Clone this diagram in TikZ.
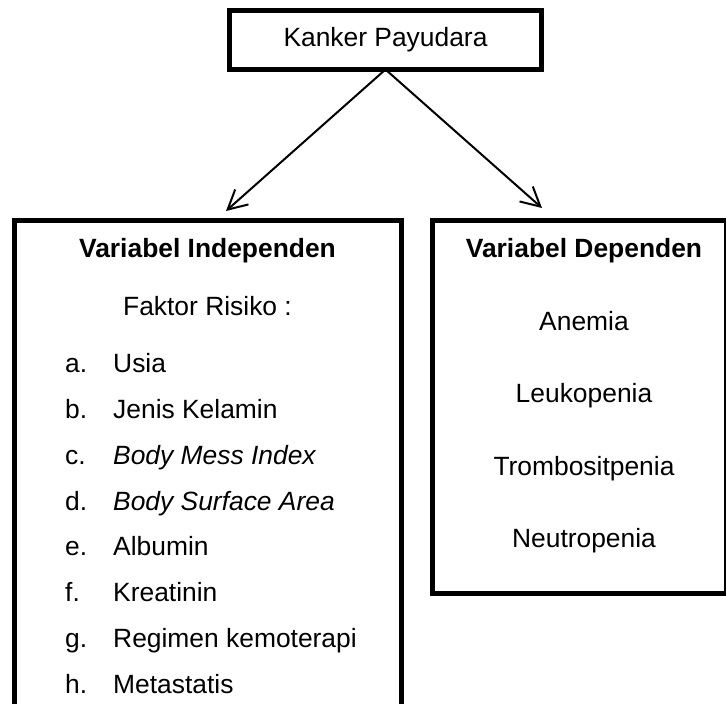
\documentclass[tikz,border=0pt]{standalone}
\usepackage{fontspec}
\setmainfont{Liberation Sans}
\usetikzlibrary{arrows.meta}
\begin{document}
\begin{tikzpicture}[x=1pt,y=-1pt,
  box/.style={draw=black, line width=5pt, rectangle, inner sep=0pt, outer sep=0pt},
  txt/.style={anchor=base, inner sep=0pt, font=\fontsize{26.4}{30}\selectfont},
  lbl/.style={anchor=base west, inner sep=0pt, font=\fontsize{26.4}{30}\selectfont},
  conn/.style={line width=2pt, -{Straight Barb[length=19pt,width=20pt,line width=2pt]}}]
\useasboundingbox (0,0) rectangle (726,704);
\clip (0,0) rectangle (726,704);
% boxes
\node[box, minimum width=312pt, minimum height=59pt] (top) at (385.5,40) {};
\node[box, minimum width=387pt, minimum height=510pt] (indep) at (207.5,475) {};
\node[box, minimum width=294pt, minimum height=373pt] (dep) at (579,406.5) {};
% texts
\node[txt] (ttop) at (385.5,46.7) {Kanker Payudara};
\node[txt] (hi) at (207.5,257) {\bfseries Variabel Independen};
\node[txt] (fr) at (207.5,315) {Faktor Risiko :};
\foreach \l/\t/\y [count=\i] in {a./Usia/372, b./Jenis Kelamin/418, c./\textit{Body Mess Index}/464, d./\textit{Body Surface Area}/510, e./Albumin/555, f./Kreatinin/601, g./Regimen kemoterapi/647, h./Metastatis/693}{
  \node[lbl] (l\i) at (65,\y) {\l};
  \node[lbl] (t\i) at (113,\y) {\t};
}
\node[txt] (hd) at (584,257) {\bfseries Variabel Dependen};
\node[txt] (d1) at (584,330) {Anemia};
\node[txt] (d2) at (584,402) {Leukopenia};
\node[txt] (d3) at (584,475) {Trombositpenia};
\node[txt] (d4) at (584,547) {Neutropenia};
% connectors
\coordinate (tipL) at (226,211);
\coordinate (tipR) at (542,208);
\draw[conn] (top.south) -- (tipL);
\draw[conn] (top.south) -- (tipR);
\end{tikzpicture}
\end{document}
